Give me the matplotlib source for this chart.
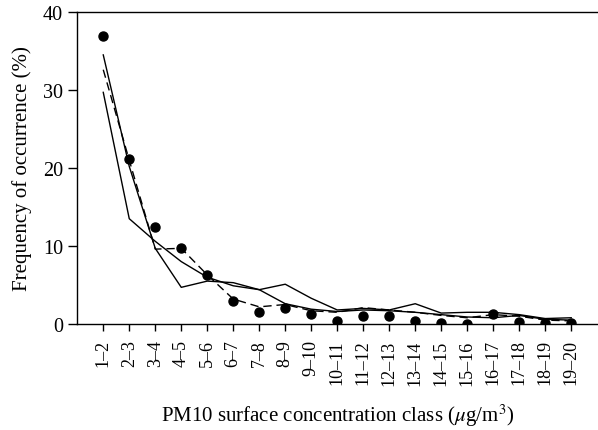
import matplotlib
matplotlib.use("Agg")
import matplotlib.pyplot as plt
import numpy as np

categories = ["1–2", "2–3", "3–4", "4–5", "5–6", "6–7", "7–8", "8–9", "9–10",
              "10–11", "11–12", "12–13", "13–14", "14–15", "15–16", "16–17",
              "17–18", "18–19", "19–20"]
observed = [36.9, 21.2, 12.4, 9.7, 6.3, 2.9, 1.5, 2.0, 1.24, 0.43, 1.0, 1.0,
            0.43, 0.13, 0.0, 1.24, 0.2, 0.13, 0.13]
solid_a = [34.5, 20.2, 9.7, 4.7, 5.5, 5.3, 4.4, 5.1, 3.3, 1.8, 2.0, 1.8, 2.6,
           1.4, 1.5, 1.5, 1.2, 0.7, 0.8]
solid_b = [29.7, 13.5, 10.6, 8.0, 6.0, 4.9, 4.4, 2.6, 1.9, 1.6, 1.8, 1.7, 1.5,
           1.2, 0.9, 0.8, 1.1, 0.6, 0.5]
dashed = [32.6, 21.0, 9.6, 9.7, 6.3, 3.2, 2.2, 2.5, 1.7, 1.5, 2.1, 1.8, 1.5,
          1.1, 0.8, 1.2, 1.0, 0.5, 0.4]
yticks = [0, 10, 20, 30, 40]

plt.rcParams['font.family'] = ['Liberation Serif', 'DejaVu Serif']
plt.rcParams['mathtext.fontset'] = 'stix'

fig = plt.figure(figsize=(5.98, 4.31), dpi=100)
ax = fig.add_axes([77/598, 106/431, 1 - 77/598, 312/431])

x = np.arange(len(categories))
ax.plot(x, solid_a, color='black', lw=1.0)
ax.plot(x, solid_b, color='black', lw=1.0)
ax.plot(x, dashed, color='black', lw=1.0, linestyle=(0, (6, 3.5)))
ax.plot(x, observed, 'o', color='black', markersize=6.5, linestyle='none')

ax.set_xlim(-1.01, 19.03)
ax.set_ylim(0, 40)
ax.set_xticks(x)
ax.set_xticklabels(categories, rotation=90, fontsize=13)
ax.set_yticks(yticks)
ax.set_yticklabels([str(v) for v in yticks], fontsize=14.5)
ax.spines['right'].set_visible(False)
for s in ['left', 'top', 'bottom']:
    ax.spines[s].set_linewidth(1.0)
ax.tick_params(axis='x', direction='out', length=5, width=1.0, pad=6)
ax.tick_params(axis='y', direction='out', length=6.5, width=1.0, pad=3.5)

ax.set_ylabel("Frequency of occurrence (%)", fontsize=15)
ax.yaxis.set_label_coords(-0.087, 0.5)
ax.set_xlabel(r"PM10 surface concentration class ($\mu$g/m$^3$)", fontsize=15)
ax.xaxis.set_label_coords(0.5, -0.25)

fig.savefig("out.png", dpi=100)
